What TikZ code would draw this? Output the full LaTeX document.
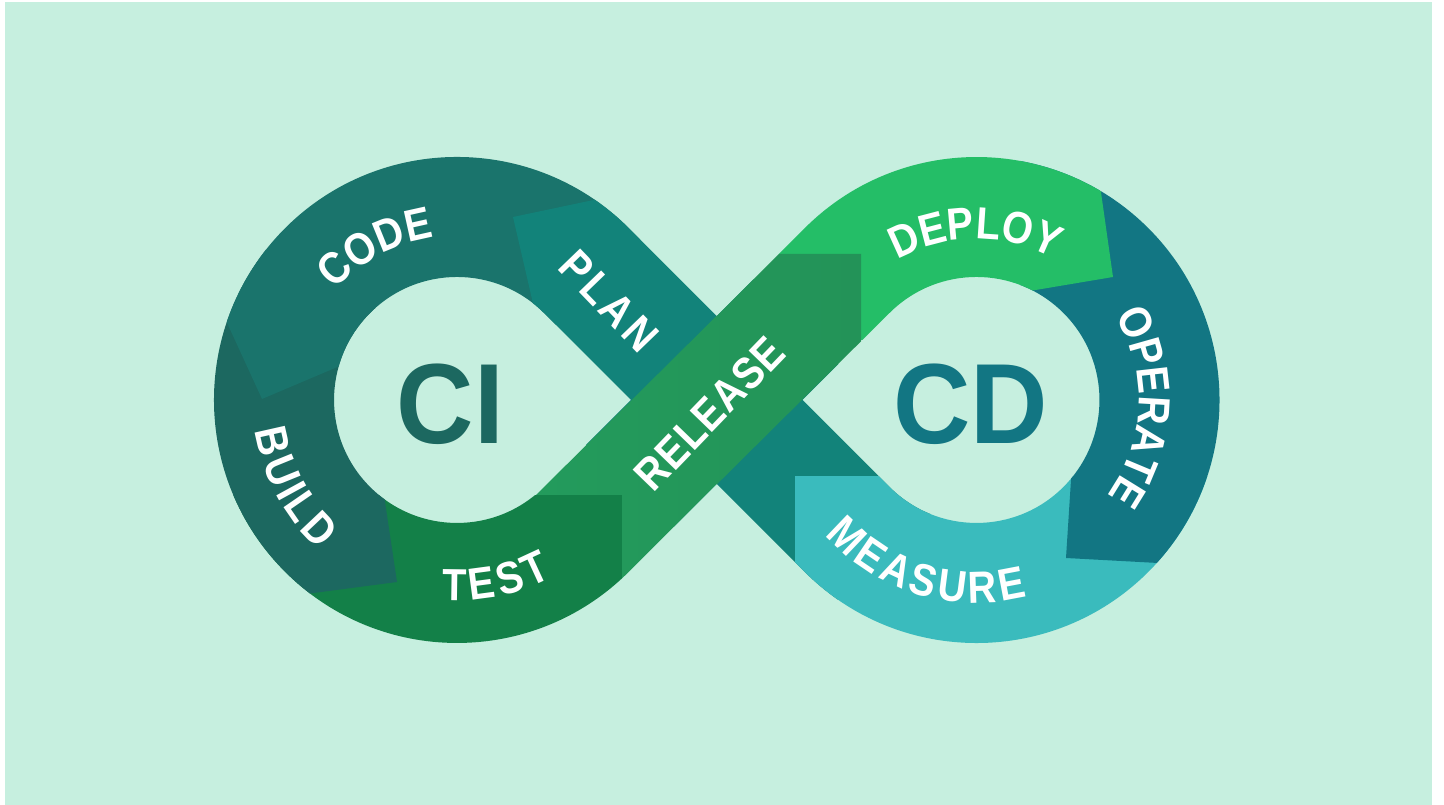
\documentclass[tikz,border=0pt]{standalone}
\usepackage{fontspec}
\usetikzlibrary{decorations.text}
\setmainfont{Liberation Sans}
\newfontfamily\labfam[FakeStretch=0.88]{Liberation Sans}
\newfontfamily\hugefam[FakeStretch=0.94]{Liberation Sans}
\newcommand{\lab}{\labfam\bfseries\fontsize{45}{45}\selectfont}
\newcommand{\hugelab}{\hugefam\bfseries\fontsize{114}{114}\selectfont}
\definecolor{bgc}{HTML}{C6EFDF}
\definecolor{codec}{HTML}{1A746C}
\definecolor{planc}{HTML}{12837A}
\definecolor{buildc}{HTML}{1C6860}
\definecolor{testc}{HTML}{138048}
\definecolor{relA}{HTML}{239B5C}
\definecolor{relB}{HTML}{239358}
\definecolor{depc}{HTML}{24BE67}
\definecolor{opc}{HTML}{127683}
\definecolor{meac}{HTML}{3ABBBD}
\newcommand{\ArcLabel}[7]{%
  \path[decorate,decoration={text along path,text align=center,raise=#6,text={|\lab\color{white}|#7}}]
    (#1,#2) ++(#3-#4:#5) arc[start angle=#3-#4,end angle=#3+#4,radius=#5 pt];}
\tikzset{straightlab/.style={text=white,inner sep=0pt,font=\lab},biglab/.style={inner sep=0pt,font=\hugelab}}
\begin{document}
\begin{tikzpicture}[x=1pt,y=1pt]
\useasboundingbox (0,0) rectangle (1444,805);
\fill[white] (0,0) rectangle (1444,805);
\fill[bgc] (5,0) rectangle (1432,803);
\begin{scope}[even odd rule,shift={(0,805)},yscale=-1]
  \clip (628.8,571.8) arc[start angle=45,end angle=315,radius=243pt]
     -- (716.75,316.2) -- (804.7,228.2) arc[start angle=225,end angle=495,radius=243pt]
     -- (716.75,483.8) -- cycle
     (544,313) arc[start angle=315,end angle=45,radius=123pt] -- (631,400) -- cycle
     (889.5,313) arc[start angle=225,end angle=495,radius=123pt] -- (802.5,400) -- cycle;
  % TEST
  \fill[testc] (200,495) rectangle (622,700);
  % BUILD
  \fill[buildc] (397,582) -- (200,608) -- (200,250) -- (375,250) -- (376,410) -- (385,502) -- cycle;
  % CODE
  \fill[codec] (262,399) -- (420,332) -- (640,320) -- (640,120) -- (200,120) -- (200,264) -- cycle;
  % PLAN and the falling band
  \fill[planc] (513,217) -- (660,186) -- (960,486) -- (795,640) -- (560,420) -- cycle;
  % MEASURE
  \fill[meac] (795,476) rectangle (1250,720);
  % OPERATE
  \fill[opc] (1071,480) -- (1066,558) -- (1250,568) -- (1250,150) -- (1020,150) -- (1020,300) -- (1078,380) -- cycle;
  % DEPLOY
  \fill[depc] (1095,150) -- (1113,277) -- (1000,296) -- (880,340) -- (850,340) -- (779,254) -- (779,150) -- cycle;
  % RELEASE
  \shade[left color=relA,right color=relB] (536,495) -- (779,254) -- (861,254) -- (861,341.3) -- (622,578.5) -- (622,495) -- cycle;
\end{scope}
\node[biglab,text=buildc] (ci) at (450.5,400.5) {CI};
\node[biglab,text=opc] (cd) at (970.5,400.5) {CD};
\ArcLabel{457}{405}{118}{-70}{164}{0pt}{CODE}
\ArcLabel{457}{405}{208}{60}{173}{-31pt}{BUILD}
\ArcLabel{457}{405}{282}{40}{172}{-29pt}{TEST}
\ArcLabel{976.5}{405}{90.5}{-80}{161}{0pt}{DEPLOY}
\ArcLabel{976.5}{405}{-2.5}{-85}{162}{0pt}{OPERATE}
\ArcLabel{976.5}{405}{253}{70}{177}{-26pt}{MEASURE}
\node[straightlab,rotate=-46] (plan) at (609,504) {\addfontfeature{LetterSpace=9}PLAN};
\node[straightlab,rotate=46] (release) at (709.5,391.5) {\addfontfeature{LetterSpace=2}RELEASE};
\end{tikzpicture}
\end{document}
